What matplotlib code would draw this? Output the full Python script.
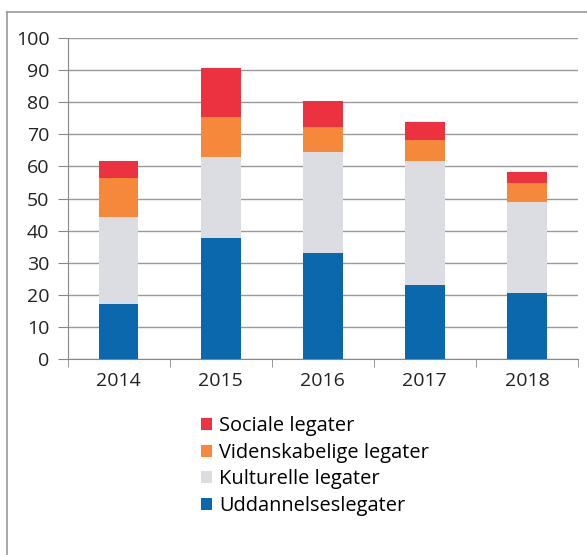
import matplotlib.pyplot as plt
from matplotlib.patches import Patch
from matplotlib.lines import Line2D

plt.rcParams['font.family'] = ['Open Sans', 'DejaVu Sans']

years = ['2014', '2015', '2016', '2017', '2018']
uddannelse = [17.0, 37.6, 33.0, 23.2, 20.7]
kulturelle = [27.3, 25.4, 31.6, 38.4, 28.2]
videnskab = [12.1, 12.3, 7.6, 6.5, 5.8]
sociale = [5.4, 15.3, 8.3, 5.7, 3.6]

series_names = ['Uddannelseslegater', 'Kulturelle legater',
                'Videnskabelige legater', 'Sociale legater']
colors = ['#0b68ad', '#dcdce3', '#f5883a', '#ec3240']

fig = plt.figure(figsize=(5.87, 5.55), dpi=100)
ax = fig.add_axes([67.5 / 587, 1 - 359 / 555, (578 - 67.5) / 587, (359 - 38) / 555])

x = list(range(len(years)))
bottom = [0] * len(years)
for vals, col in zip([uddannelse, kulturelle, videnskab, sociale], colors):
    ax.bar(x, vals, bottom=bottom, width=0.39, color=col, zorder=3)
    bottom = [b + v for b, v in zip(bottom, vals)]

ax.set_xlim(-0.5, len(years) - 0.5)
ax.set_ylim(0, 100)
ax.set_yticks(range(0, 101, 10))
ax.set_xticks(x)
ax.set_xticklabels(years)
ax.set_xticks([i - 0.5 for i in range(len(years) + 1)], minor=True)
ax.tick_params(axis='x', which='major', length=0, pad=9, labelsize=14, colors='#222222')
ax.tick_params(axis='x', which='minor', length=6, color='#888888', direction='out')
ax.tick_params(axis='y', length=7, color='#888888', labelsize=14, colors='#222222', pad=6)
ax.yaxis.grid(True, color='#999999', linewidth=1, zorder=0)
for s in ['top', 'right']:
    ax.spines[s].set_visible(False)
for s in ['left', 'bottom']:
    ax.spines[s].set_color('#888888')

# frame around the chart
fig.add_artist(Line2D([7 / 587, 1.0], [1 - 12 / 555] * 2, color='#999999', lw=1.2))
fig.add_artist(Line2D([7 / 587] * 2, [0, 1 - 12 / 555], color='#999999', lw=1.2))

handles = [Patch(facecolor=c) for c in colors[::-1]]
fig.legend(handles, series_names[::-1], loc='upper left',
           bbox_to_anchor=(201 / 587, 1 - 416 / 555), frameon=False,
           fontsize=14.4, handlelength=0.55, handleheight=0.55, handletextpad=0.35,
           labelspacing=0.33, borderaxespad=0, borderpad=0)

fig.savefig('out.png', dpi=100)
